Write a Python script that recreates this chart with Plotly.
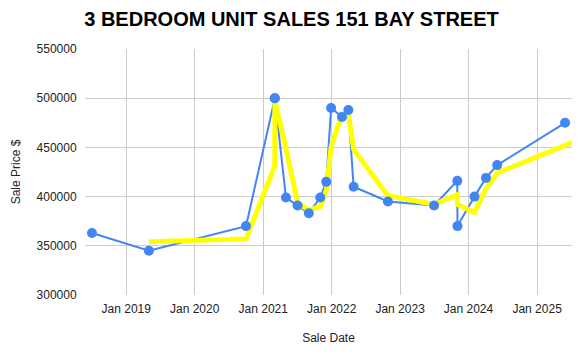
import plotly.graph_objects as go

sale_dates = ["2018-07-02", "2019-05-02", "2020-10-01", "2021-03-03", "2021-03-04",
              "2021-05-02", "2021-07-03", "2021-09-01", "2021-11-01", "2021-12-03",
              "2021-12-29", "2022-02-25", "2022-03-31", "2022-04-28", "2022-10-28",
              "2023-07-01", "2023-11-02", "2023-11-03", "2024-02-02", "2024-04-03",
              "2024-06-02", "2025-05-30"]
sale_prices = [363000, 345000, 370000, 500000, 500000,
               399000, 391000, 383000, 399000, 415000,
               490000, 481000, 488000, 410000, 395000,
               391000, 416000, 370000, 400000, 419000,
               432000, 475000]

trend_dates = ["2019-05-02", "2020-10-01", "2021-03-03", "2021-03-04", "2021-05-02",
               "2021-07-03", "2021-09-01", "2021-11-01", "2021-12-03", "2021-12-29",
               "2022-02-25", "2022-03-31", "2022-04-28", "2022-10-28", "2023-07-01",
               "2023-11-02", "2023-11-03", "2024-02-02", "2024-04-03", "2024-06-02",
               "2025-07-06"]
trend_prices = [354000, 357000, 431000, 497000, 449000,
                394000, 386000, 390000, 406000, 451000,
                484000, 484000, 448000, 401000, 392000,
                402000, 392000, 384000, 408000, 424000,
                455000]

tick_vals = ["2019-01-01", "2020-01-01", "2021-01-01", "2022-01-01",
             "2023-01-01", "2024-01-01", "2025-01-01"]
tick_text = ["Jan 2019", "Jan 2020", "Jan 2021", "Jan 2022",
             "Jan 2023", "Jan 2024", "Jan 2025"]

BLUE = "#4285F4"
YELLOW = "#FFFF00"

fig = go.Figure()
fig.add_trace(go.Scatter(x=sale_dates, y=sale_prices, mode="lines",
                         line=dict(color=BLUE, width=2), showlegend=False, hoverinfo="skip"))
fig.add_trace(go.Scatter(x=trend_dates, y=trend_prices, mode="lines",
                         line=dict(color=YELLOW, width=5), showlegend=False))
fig.add_trace(go.Scatter(x=sale_dates, y=sale_prices, mode="markers",
                         marker=dict(color=BLUE, size=10), showlegend=False))

font_family = "Arial, Liberation Sans, sans-serif"
fig.update_layout(
    width=583, height=354,
    margin=dict(l=85, r=11, t=49, b=57),
    paper_bgcolor="white", plot_bgcolor="white",
    font=dict(family=font_family, size=12, color="#222222"),
    title=dict(text="<b>3 BEDROOM UNIT SALES 151 BAY STREET</b>",
               x=0.5, xanchor="center", y=1 - 19 / 354, yanchor="middle",
               font=dict(family=font_family, size=20, color="#000000")),
    xaxis=dict(range=["2018-05-26", "2025-07-06"], tickvals=tick_vals, ticktext=tick_text,
               showgrid=True, gridcolor="#cccccc", gridwidth=1, zeroline=False,
               showline=False, ticks="outside", ticklen=3, tickcolor="rgba(0,0,0,0)",
               title=dict(text="Sale Date", standoff=18, font=dict(size=12, color="#222222"))),
    yaxis=dict(range=[300000, 550000], dtick=50000, tickformat="d",
               showgrid=True, gridcolor="#cccccc", gridwidth=1, zeroline=False,
               showline=False, ticks="outside", ticklen=5, tickcolor="rgba(0,0,0,0)",
               title=dict(text="Sale Price $", standoff=13, font=dict(size=12, color="#222222"))),
)

fig.write_html("out.html")
